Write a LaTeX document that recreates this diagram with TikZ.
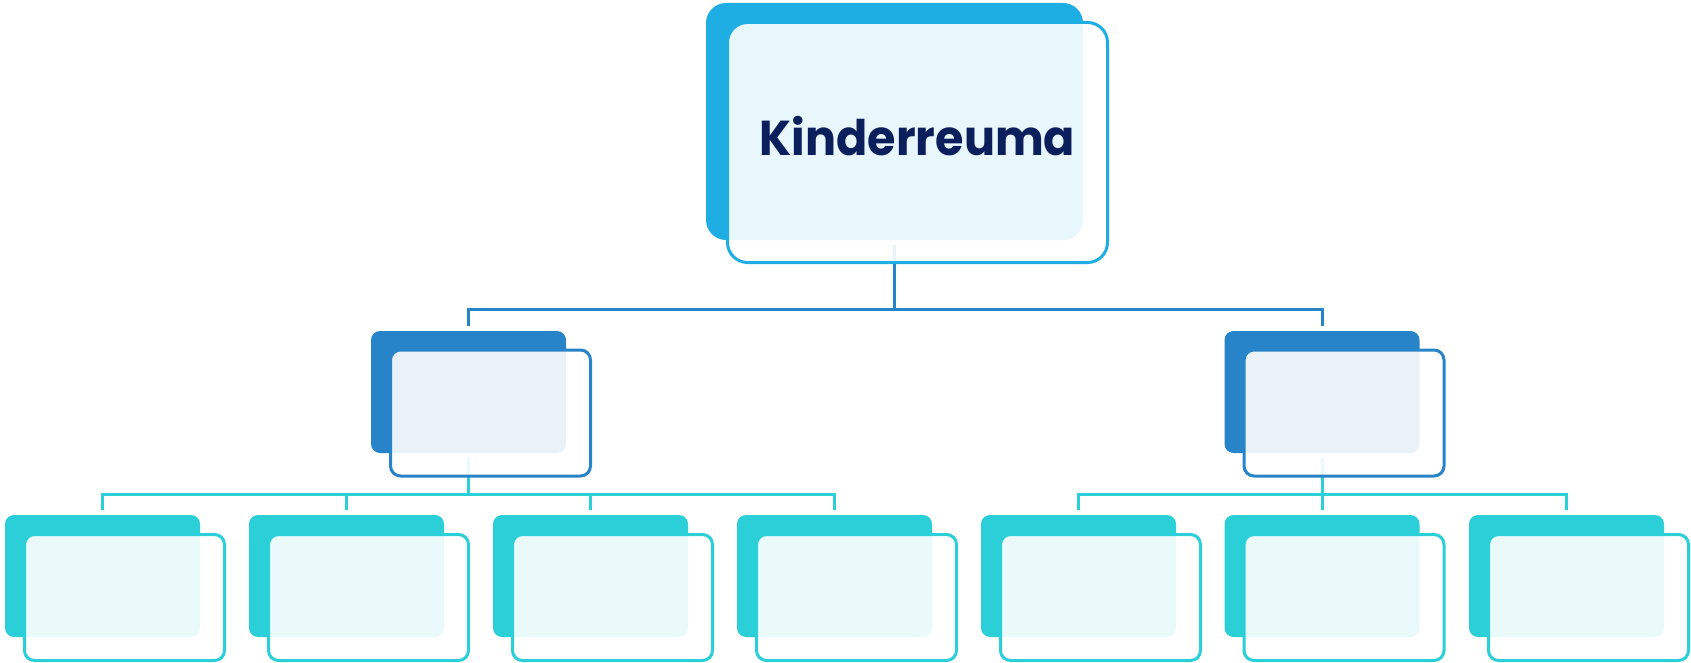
\documentclass[tikz,border=0pt]{standalone}
\usepackage{fontspec}
\usepackage{xcolor}
\usepackage{tikz}
\newfontfamily\titlefont{Poppins}[FakeStretch=0.94]
\usetikzlibrary{positioning,calc}

\definecolor{topblue}{HTML}{1EAEE3}
\definecolor{midblue}{HTML}{2884C8}
\definecolor{leafcyan}{HTML}{2ACFD8}
\definecolor{navy}{HTML}{0B1F5C}

\tikzset{
    backbox/.style={rectangle, rounded corners=9pt, fill=#1, inner sep=0pt,
        minimum width=195pt, minimum height=122pt},
    frontbox/.style={rectangle, rounded corners=10pt, draw=#1, line width=3pt,
        fill=white, fill opacity=0.9, text opacity=1, inner sep=0pt,
        minimum width=200pt, minimum height=126pt},
    link/.style={draw=#1, line width=3pt}
}

\begin{document}
\begin{tikzpicture}[x=1pt, y=-1pt]
    \useasboundingbox (0,0) rectangle (1691,663);

    % Back boxes
    \node[backbox=topblue, rounded corners=20pt, minimum width=377pt, minimum height=237pt] (top) at (894.5,121.5) {};
    \node[backbox=midblue] (left) at (468.5,392) {};
    \node[backbox=midblue] (right) at (1322,392) {};
    \foreach \i/\x in {1/102.5, 2/346.5, 3/590.5, 4/834.5, 5/1078.5, 6/1322, 7/1566.5}
        \node[backbox=leafcyan] (leaf\i) at (\x,576) {};

    % Top level links
    \draw[link=midblue] ([yshift=-5pt]top.south) -- ++(0,64) coordinate (topjoin);
    \draw[link=midblue] ([yshift=5pt]left.north) |- (topjoin) -| ([yshift=5pt]right.north);

    % Left group links
    \draw[link=leafcyan] ([yshift=-5pt]left.south) -- ++(0,36) coordinate (leftjoin);
    \draw[link=leafcyan] ([yshift=5pt]leaf1.north) |- (leftjoin) -| ([yshift=5pt]leaf4.north);
    \draw[link=leafcyan] ([yshift=5pt]leaf2.north) -- (leaf2.north |- leftjoin);
    \draw[link=leafcyan] ([yshift=5pt]leaf3.north) -- (leaf3.north |- leftjoin);

    % Right group links
    \draw[link=leafcyan] ([yshift=-5pt]right.south) -- ++(0,36) coordinate (rightjoin);
    \draw[link=leafcyan] ([yshift=5pt]leaf5.north) |- (rightjoin) -| ([yshift=5pt]leaf7.north);
    \draw[link=leafcyan] ([yshift=5pt]leaf6.north) -- (leaf6.north |- rightjoin);

    % Front boxes
    \node[frontbox=topblue, rounded corners=20pt, minimum width=380pt, minimum height=240pt] (topfront) at ($(top)+(23,21)$) {};
    \node[text=navy, font=\titlefont\bfseries\fontsize{49}{49}\selectfont] (title) at ($(topfront)+(0,-6)$) {Kinderreuma};
    \node[frontbox=midblue] (leftfront) at ($(left)+(22,21)$) {};
    \node[frontbox=midblue] (rightfront) at ($(right)+(22,21)$) {};
    \foreach \i in {1,...,7}
        \node[frontbox=leafcyan] (leaffront\i) at ($(leaf\i)+(22,21.5)$) {};
\end{tikzpicture}
\end{document}
